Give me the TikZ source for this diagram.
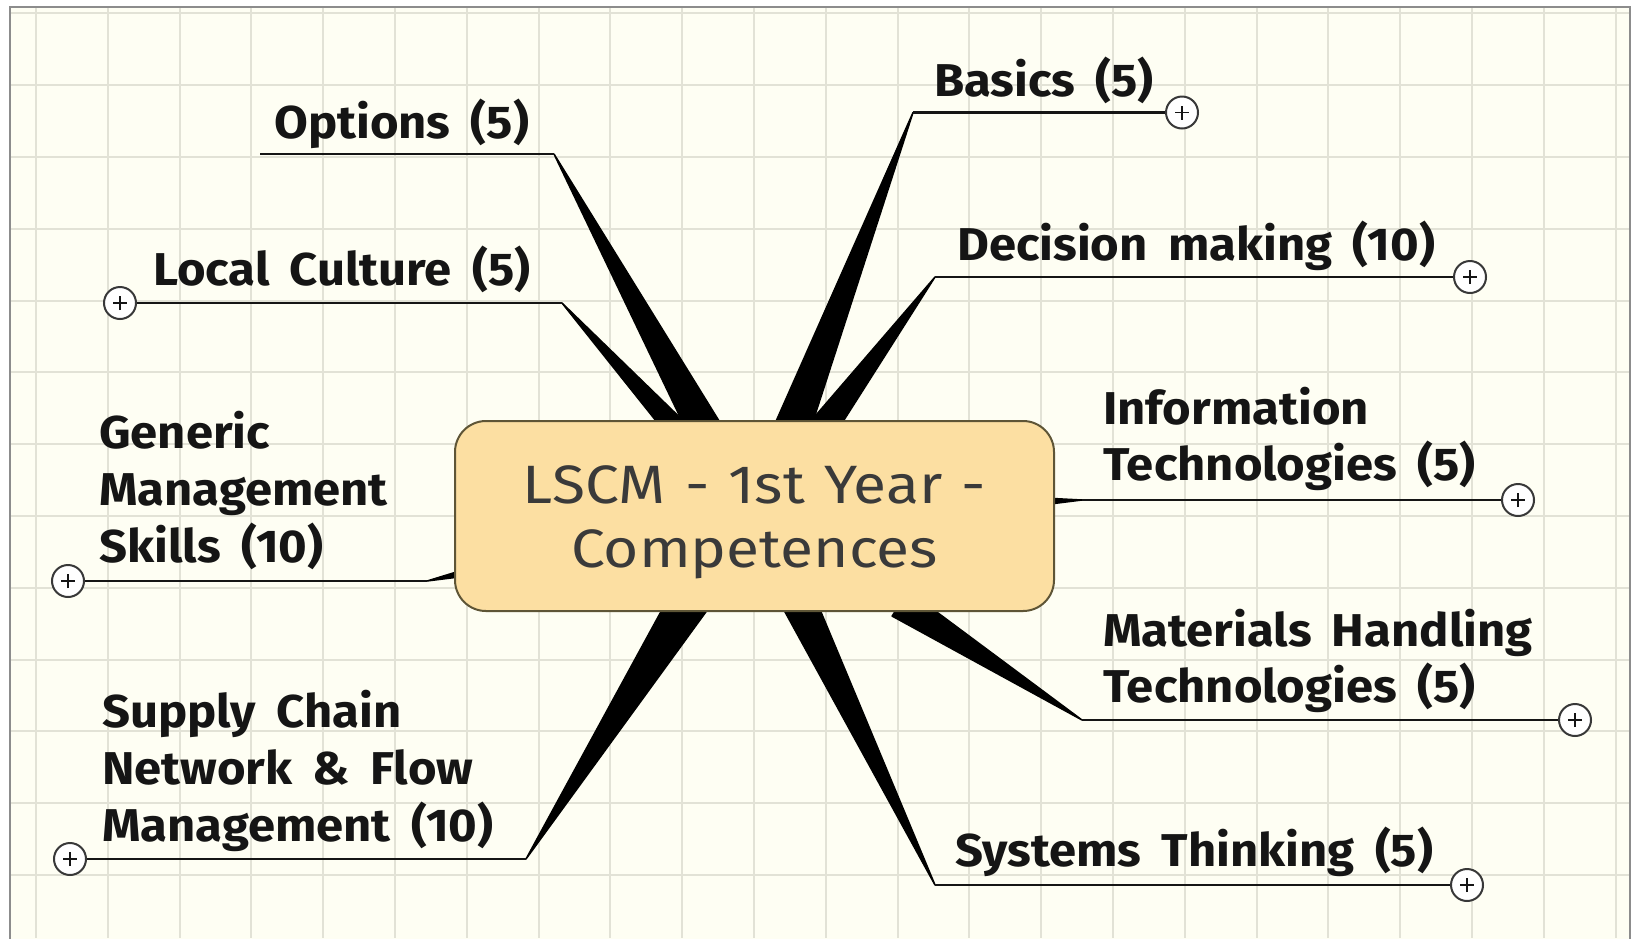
\documentclass[tikz,border=0pt]{standalone}
\usepackage{fontspec}
\setmainfont{Fira Sans}
\newfontfamily\labfont[FakeStretch=1.065,WordSpace=1.75]{Fira Sans}
\newfontfamily\titlefont[FakeStretch=1.12,WordSpace=1.2]{Fira Sans}
\usetikzlibrary{calc}
\definecolor{bgc}{HTML}{FEFEF3}
\definecolor{gridc}{HTML}{E2E2D6}
\definecolor{framec}{HTML}{8C8C8C}
\definecolor{boxfill}{HTML}{FCDFA2}
\definecolor{boxline}{HTML}{5E5536}
\definecolor{titlec}{HTML}{3A3A3A}
\definecolor{inkc}{HTML}{151515}
\tikzset{
  lab/.style={anchor=base west, inner sep=0pt, text=inkc,
    font=\labfont\bfseries\fontsize{46}{57}\selectfont},
  expander/.style={circle, draw=inkc!85, line width=2pt, fill=white,
    minimum size=32pt, inner sep=0pt,
    path picture={\draw[inkc, line width=1.6pt]
      ([xshift=-7pt]path picture bounding box.center) -- ([xshift=7pt]path picture bounding box.center)
      ([yshift=-7pt]path picture bounding box.center) -- ([yshift=7pt]path picture bounding box.center);}},
  uline/.style={draw=inkc, line width=2.5pt},
  wedge/.style={fill=black, draw=black, line width=1.5pt, line join=round},
  centre/.style={rectangle, rounded corners=31pt, draw=boxline, line width=2pt,
    fill=boxfill, minimum width=599pt, minimum height=190pt, inner sep=0pt,
    text=titlec, font=\titlefont\fontsize{54}{64}\selectfont}
}
\begin{document}
\begin{tikzpicture}[x=1pt,y=-1pt]
\useasboundingbox (0,0) rectangle (1632,938);
% background and frame
\fill[white] (0,0) rectangle (1632,938);
\fill[bgc] (10,7) rectangle (1630,945);
\foreach \i in {0,...,22} \draw[gridc, line width=2pt] ({36+71.8*\i},8) -- ({36+71.8*\i},938);
\foreach \j in {0,...,12} \draw[gridc, line width=2pt] (11,{13.4+71.8*\j}) -- (1629,{13.4+71.8*\j});
\draw[framec, line width=2pt] (10,960) -- (10,7) -- (1630,7) -- (1630,960);

% bends (where the underline meets the wedge)
\coordinate (oS) at (260,154);
\coordinate (oB) at (554,154);
\coordinate (lB) at (562,303);
\coordinate (gB) at (427,581);
\coordinate (sB) at (526,859);
\coordinate (bB) at (913,112.5);
\coordinate (dB) at (935,277);
\coordinate (iB) at (1082,500);
\coordinate (mB) at (1082,720);
\coordinate (tB) at (935,885);
% roots (hidden just inside the central box)
\coordinate (oR) at ($(700,421)!-14pt!(oB)$);
\coordinate (lR) at ($(669,421)!-14pt!(lB)$);
\coordinate (gR) at ($(455,575)!-6pt!(gB)$);
\coordinate (sR) at ($(683,611)!-14pt!(sB)$);
\coordinate (bR) at ($(795,421)!-14pt!(bB)$);
\coordinate (dR) at ($(828,421)!-14pt!(dB)$);
\coordinate (iR) at ($(1054,501)!-6pt!(iB)$);
\coordinate (mR) at ($(912,611)!-14pt!(mB)$);
\coordinate (tR) at ($(803,611)!-14pt!(tB)$);

% tapered connectors
\filldraw[wedge] (oB) -- ($(oR)!17pt!90:(oB)$) -- ($(oR)!17pt!-90:(oB)$) -- cycle;
\filldraw[wedge] (lB) -- ($(lR)!11pt!90:(lB)$) -- ($(lR)!11pt!-90:(lB)$) -- cycle;
\filldraw[wedge] (gB) -- ($(gR)!3pt!90:(gB)$) -- ($(gR)!3pt!-90:(gB)$) -- cycle;
\filldraw[wedge] (sB) -- ($(sR)!20pt!90:(sB)$) -- ($(sR)!20pt!-90:(sB)$) -- cycle;
\filldraw[wedge] (bB) -- ($(bR)!18pt!90:(bB)$) -- ($(bR)!18pt!-90:(bB)$) -- cycle;
\filldraw[wedge] (dB) -- ($(dR)!14pt!90:(dB)$) -- ($(dR)!14pt!-90:(dB)$) -- cycle;
\filldraw[wedge] (iB) -- ($(iR)!3pt!90:(iB)$) -- ($(iR)!3pt!-90:(iB)$) -- cycle;
\filldraw[wedge] (mB) -- ($(mR)!15pt!90:(mB)$) -- ($(mR)!15pt!-90:(mB)$) -- cycle;
\filldraw[wedge] (tB) -- ($(tR)!17pt!90:(tB)$) -- ($(tR)!17pt!-90:(tB)$) -- cycle;

% central topic
\node[centre, text height=51pt, text depth=77pt] (c) at (754.5,516)
  {\begin{tabular}[t]{@{}c@{}}LSCM - 1st Year -\\Competences\end{tabular}};

% expander circles
\node[expander] (lC) at (120,303) {};
\node[expander] (gC) at (68,581) {};
\node[expander] (sC) at (70,859) {};
\node[expander] (bC) at (1182,112.5) {};
\node[expander] (dC) at (1470,277) {};
\node[expander] (iC) at (1518,500) {};
\node[expander] (mC) at (1575,720) {};
\node[expander] (tC) at (1467,885) {};

% underlines
\draw[uline] (oS) -- (oB);
\draw[uline] (lC) -- (lB);
\draw[uline] (gC) -- (gB);
\draw[uline] (sC) -- (sB);
\draw[uline] (bC) -- (bB);
\draw[uline] (dC) -- (dB);
\draw[uline] (iC) -- (iB);
\draw[uline] (mC) -- (mB);
\draw[uline] (tC) -- (tB);

% labels
\node[lab] (options) at (274,138) {Options (5)};
\node[lab] (local) at (153,285) {Local Culture (5)};
\node[lab] (generic) at (99,448) {\begin{tabular}[t]{@{}l@{}}Generic\\Management\\Skills (10)\end{tabular}};
\node[lab] (supply) at (102,727) {\begin{tabular}[t]{@{}l@{}}Supply Chain\\Network \& Flow\\Management (10)\end{tabular}};
\node[lab] (basics) at (934,96) {Basics (5)};
\node[lab] (decision) at (957,260) {Decision making (10)};
\node[lab, font=\labfont\bfseries\fontsize{46}{56}\selectfont] (info) at (1103,424) {\begin{tabular}[t]{@{}l@{}}Information\\Technologies (5)\end{tabular}};
\node[lab, font=\labfont\bfseries\fontsize{46}{56}\selectfont] (materials) at (1103,646) {\begin{tabular}[t]{@{}l@{}}Materials Handling\\Technologies (5)\end{tabular}};
\node[lab] (systems) at (955,866) {Systems Thinking (5)};
\end{tikzpicture}
\end{document}
